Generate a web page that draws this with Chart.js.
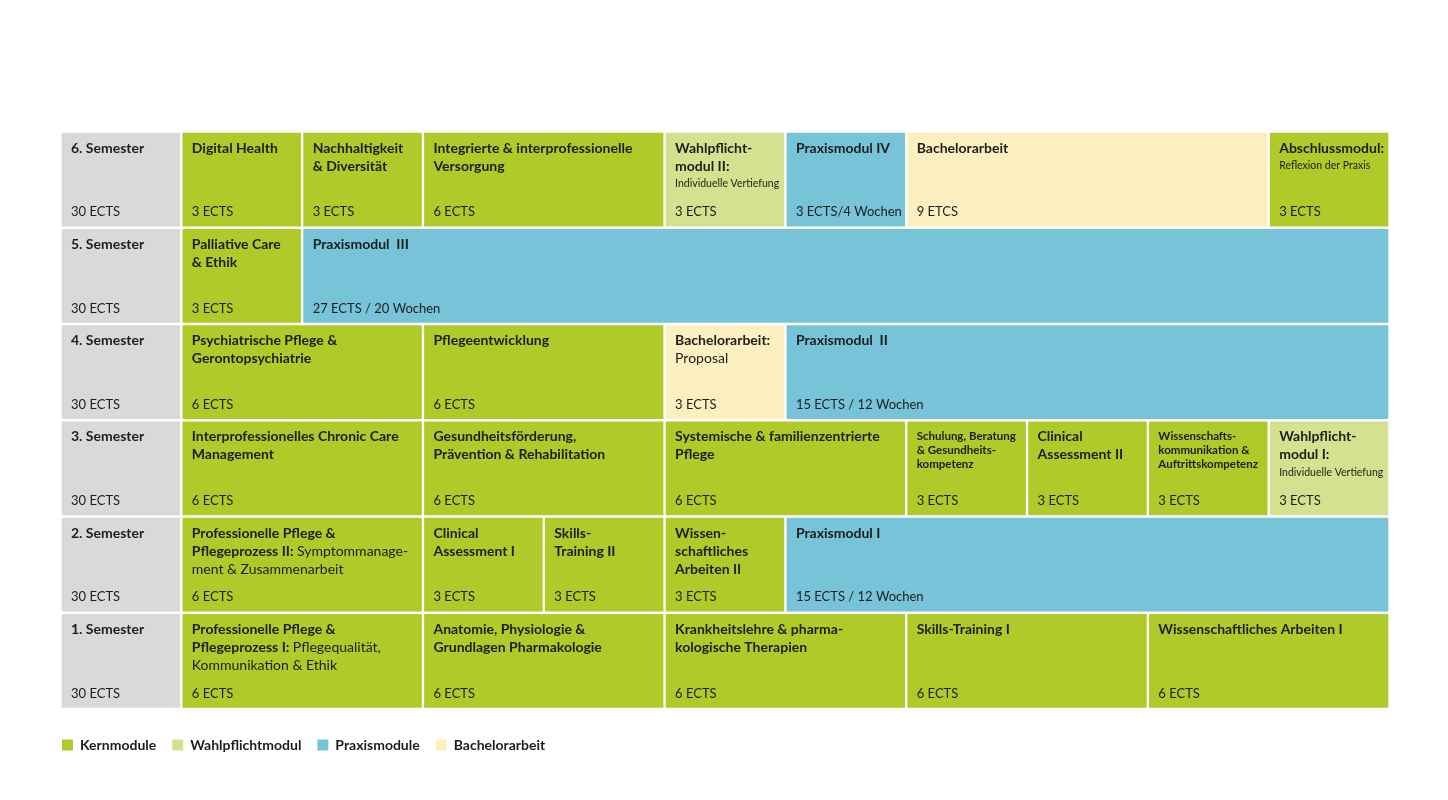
<!DOCTYPE html>
<html lang="de">
<head>
<meta charset="utf-8">
<title>Studienverlauf</title>
<script src="https://cdn.jsdelivr.net/npm/chart.js@4.4.1/dist/chart.umd.min.js"></script>
<style>
    html, body { margin: 0; padding: 0; background: #fff; }
    #wrap { position: relative; width: 1448px; height: 800px; }
</style>
</head>
<body>
<div id="wrap"><canvas id="plan"></canvas></div>
<script>
// ===== DATA =====
// rows top to bottom
const semesters = ['6. Semester', '5. Semester', '4. Semester', '3. Semester', '2. Semester', '1. Semester'];
const semesterEcts = ['30 ECTS', '30 ECTS', '30 ECTS', '30 ECTS', '30 ECTS', '30 ECTS'];

// "|" switches the rest of the title to regular weight
const sem6Titles = ['Digital Health', 'Nachhaltigkeit\n& Diversität', 'Integrierte & interprofessionelle\nVersorgung', 'Wahlpflicht-\nmodul II:', 'Praxismodul IV', 'Bachelorarbeit', 'Abschlussmodul:'];
const sem6Notes = ['', '', '', 'Individuelle Vertiefung', '', '', 'Reflexion der Praxis'];
const sem6Ects = [3, 3, 6, 3, 3, 9, 3];
const sem6Labels = ['3 ECTS', '3 ECTS', '6 ECTS', '3 ECTS', '3 ECTS/4 Wochen', '9 ETCS', '3 ECTS'];
const sem6Types = ['kern', 'kern', 'kern', 'wahl', 'praxis', 'bachelor', 'kern'];

const sem5Titles = ['Palliative Care\n& Ethik', 'Praxismodul  III'];
const sem5Notes = ['', ''];
const sem5Ects = [3, 27];
const sem5Labels = ['3 ECTS', '27 ECTS / 20 Wochen'];
const sem5Types = ['kern', 'praxis'];

const sem4Titles = ['Psychiatrische Pflege &\nGerontopsychiatrie', 'Pflegeentwicklung', 'Bachelorarbeit:\n|Proposal', 'Praxismodul  II'];
const sem4Notes = ['', '', '', ''];
const sem4Ects = [6, 6, 3, 15];
const sem4Labels = ['6 ECTS', '6 ECTS', '3 ECTS', '15 ECTS / 12 Wochen'];
const sem4Types = ['kern', 'kern', 'bachelor', 'praxis'];

const sem3Titles = ['Interprofessionelles Chronic Care\nManagement', 'Gesundheitsförderung,\nPrävention & Rehabilitation', 'Systemische & familienzentrierte\nPflege', 'Schulung, Beratung\n& Gesundheits-\nkompetenz', 'Clinical\nAssessment II', 'Wissenschafts-\nkommunikation &\nAuftrittskompetenz', 'Wahlpflicht-\nmodul I:'];
const sem3Notes = ['', '', '', '', '', '', 'Individuelle Vertiefung'];
const sem3Ects = [6, 6, 6, 3, 3, 3, 3];
const sem3Labels = ['6 ECTS', '6 ECTS', '6 ECTS', '3 ECTS', '3 ECTS', '3 ECTS', '3 ECTS'];
const sem3Types = ['kern', 'kern', 'kern', 'kern', 'kern', 'kern', 'wahl'];
const sem3Small = [false, false, false, true, false, true, false];

const sem2Titles = ['Professionelle Pflege &\nPflegeprozess II: |Symptommanage-\nment & Zusammenarbeit', 'Clinical\nAssessment I', 'Skills-\nTraining II', 'Wissen-\nschaftliches\nArbeiten II', 'Praxismodul I'];
const sem2Notes = ['', '', '', '', ''];
const sem2Ects = [6, 3, 3, 3, 15];
const sem2Labels = ['6 ECTS', '3 ECTS', '3 ECTS', '3 ECTS', '15 ECTS / 12 Wochen'];
const sem2Types = ['kern', 'kern', 'kern', 'kern', 'praxis'];

const sem1Titles = ['Professionelle Pflege &\nPflegeprozess I: |Pflegequalität,\nKommunikation & Ethik', 'Anatomie, Physiologie &\nGrundlagen Pharmakologie', 'Krankheitslehre & pharma-\nkologische Therapien', 'Skills-Training I', 'Wissenschaftliches Arbeiten I'];
const sem1Notes = ['', '', '', '', ''];
const sem1Ects = [6, 6, 6, 6, 6];
const sem1Labels = ['6 ECTS', '6 ECTS', '6 ECTS', '6 ECTS', '6 ECTS'];
const sem1Types = ['kern', 'kern', 'kern', 'kern', 'kern'];

const legendNames = ['Kernmodule', 'Wahlpflichtmodul', 'Praxismodule', 'Bachelorarbeit'];
const legendTypes = ['kern', 'wahl', 'praxis', 'bachelor'];

// ===== STYLE =====
const typeColors = {
    label: '#d9d9d9',
    kern: '#afca29',
    wahl: '#d5e18e',
    praxis: '#77c4d9',
    bachelor: '#fdf0c0'
};
const textColor = '#1d1d1b';
const fontFamily = "Lato, 'Open Sans', sans-serif";

// ===== BUILD ROWS =====
const rowTitles = [sem6Titles, sem5Titles, sem4Titles, sem3Titles, sem2Titles, sem1Titles];
const rowNotes = [sem6Notes, sem5Notes, sem4Notes, sem3Notes, sem2Notes, sem1Notes];
const rowEcts = [sem6Ects, sem5Ects, sem4Ects, sem3Ects, sem2Ects, sem1Ects];
const rowLabels = [sem6Labels, sem5Labels, sem4Labels, sem3Labels, sem2Labels, sem1Labels];
const rowTypes = [sem6Types, sem5Types, sem4Types, sem3Types, sem2Types, sem1Types];
const rowSmall = [[], [], [], sem3Small, [], []];
const labelWidth = 3; // semester column takes the width of a 3 ECTS module

const maxSlots = Math.max(...rowEcts.map(r => r.length));
const datasets = [{
    label: 'Semester',
    data: semesters.map(() => labelWidth),
    backgroundColor: semesters.map(() => typeColors.label),
    cellTitles: semesters,
    cellNotes: semesters.map(() => ''),
    cellLabels: semesterEcts,
    cellSmall: semesters.map(() => false)
}];
for (let j = 0; j < maxSlots; j++) {
    datasets.push({
        label: 'Modul ' + (j + 1),
        data: rowEcts.map(r => (j < r.length ? r[j] : null)),
        backgroundColor: rowTypes.map(r => typeColors[r[j]] || 'transparent'),
        cellTitles: rowTitles.map(r => r[j] || ''),
        cellNotes: rowNotes.map(r => r[j] || ''),
        cellLabels: rowLabels.map(r => r[j] || ''),
        cellSmall: rowSmall.map(r => !!r[j])
    });
}

// ===== CELL TEXT PLUGIN =====
const cellText = {
    id: 'cellText',
    afterDatasetsDraw(chart) {
        const ctx = chart.ctx;
        ctx.save();
        ctx.fillStyle = textColor;
        ctx.textBaseline = 'middle';
        ctx.textAlign = 'left';
        chart.data.datasets.forEach((ds, i) => {
            const meta = chart.getDatasetMeta(i);
            meta.data.forEach((el, r) => {
                if (ds.data[r] == null) return;
                const left = Math.min(el.x, el.base) + 1.5;
                const top = el.y - el.height / 2 + 1.5;
                const bottom = el.y + el.height / 2 - 1.5;
                const tx = left + 9;
                const small = ds.cellSmall[r];
                const size = small ? 11.5 : 14;
                const step = small ? 14 : 18;
                let bold = true;
                const lines = ds.cellTitles[r].split('\n');
                lines.forEach((line, k) => {
                    const y = top + 15 + k * step;
                    let x = tx;
                    line.split('|').forEach((part, p) => {
                        if (p > 0) bold = false;
                        ctx.font = (bold ? 'bold ' : '') + size + 'px ' + fontFamily;
                        ctx.fillText(part, x, y);
                        x += ctx.measureText(part).width;
                    });
                });
                const note = ds.cellNotes[r];
                if (note) {
                    ctx.font = '10.5px ' + fontFamily;
                    ctx.fillText(note, tx, top + 15 + lines.length * step);
                }
                ctx.font = '13px ' + fontFamily;
                ctx.fillText(ds.cellLabels[r], tx, bottom - 14);
            });
        });
        ctx.restore();
    },
    afterDraw(chart) {
        // legend row below the grid
        const ctx = chart.ctx;
        const area = chart.chartArea;
        ctx.save();
        ctx.font = 'bold 14px ' + fontFamily;
        ctx.textBaseline = 'middle';
        let x = area.left + 1.5;
        const y = area.bottom + 36;
        legendNames.forEach((name, i) => {
            ctx.fillStyle = typeColors[legendTypes[i]];
            ctx.fillRect(x, y - 5.5, 11, 11);
            ctx.fillStyle = textColor;
            ctx.fillText(name, x + 18, y);
            x += 18 + ctx.measureText(name).width + 16;
        });
        ctx.restore();
    }
};

// ===== CHART =====
new Chart(document.getElementById('plan'), {
    type: 'bar',
    data: { labels: semesters, datasets: datasets },
    options: {
        indexAxis: 'y',
        responsive: true,
        maintainAspectRatio: false,
        animation: false,
        barPercentage: 1,
        categoryPercentage: 1,
        borderWidth: 1.5,
        borderColor: '#ffffff',
        borderSkipped: false,
        layout: { padding: { left: 60.5, right: 58.5, top: 131.5, bottom: 91 } },
        scales: {
            x: { stacked: true, min: 0, max: 33, display: false },
            y: { stacked: true, display: false }
        },
        plugins: {
            legend: { display: false },
            tooltip: { enabled: false }
        }
    },
    plugins: [cellText]
});
</script>
</body>
</html>
